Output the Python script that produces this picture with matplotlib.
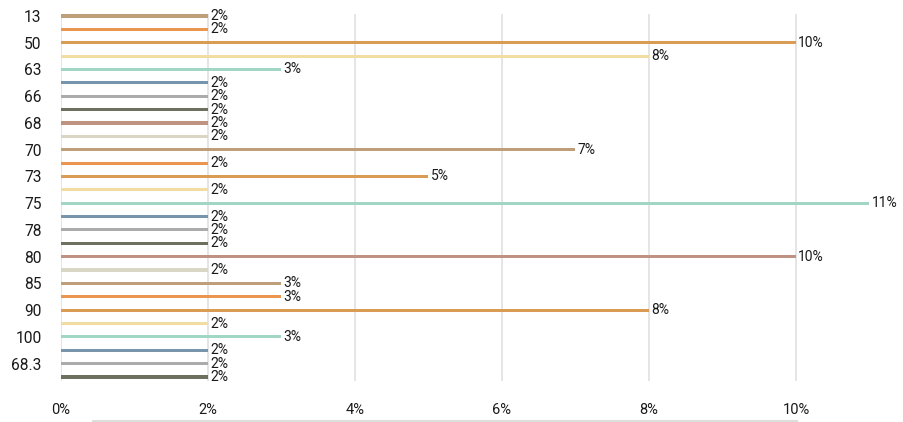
import matplotlib.pyplot as plt
from matplotlib.lines import Line2D

# category labels (shown on every other bar)
categories = ['13', '50', '63', '66', '68', '70', '73', '75', '78', '80',
              '85', '90', '100', '68.3']
# bar values in percent, top to bottom
values = [2, 2, 10, 8, 3, 2, 2, 2, 2, 2,
          7, 2, 5, 2, 11, 2, 2, 2, 10, 2,
          3, 3, 8, 2, 3, 2, 2, 2]
palette = ['#bf9f7a', '#eb9650', '#da9c55', '#f1dca2', '#a0d6c3',
           '#7895ae', '#ababab', '#6d705f', '#bf9282', '#d9d6c6']
x_ticks = [0, 2, 4, 6, 8, 10]

plt.rcParams['font.family'] = ['Roboto', 'DejaVu Sans']

fig = plt.figure(figsize=(9.04, 4.22), dpi=100)
ax = fig.add_axes([61 / 904, 1 - 381 / 422, (869.5 - 61) / 904, (381 - 14) / 422])

pos = list(range(len(values)))
colors = [palette[i % len(palette)] for i in pos]
ax.barh(pos, values, height=0.23, color=colors, zorder=3)

for p, v in zip(pos, values):
    ax.text(v + 0.03, p, f"{v}%", ha='left', va='center',
            fontsize=10, color='#1a1a1a', zorder=4)

ax.set_xlim(0, 11)
ax.set_ylim(len(values) - 1 + 0.3, -0.15)
ax.set_xticks(x_ticks)
ax.set_xticklabels([f"{t}%" for t in x_ticks], fontsize=10.5, color='#1a1a1a')
ax.set_yticks(pos[::2])
ax.set_yticklabels(categories, fontsize=11.2, color='#1a1a1a')
ax.tick_params(axis='x', length=0, pad=16)
ax.tick_params(axis='y', length=0, pad=14)

for t in x_ticks:
    ax.axvline(t, color='#e0e0e0', linewidth=1.2, zorder=1)
for s in ax.spines.values():
    s.set_visible(False)

# thin scroll line under the axis
fig.add_artist(Line2D([93 / 904, 797 / 904], [1 - 421 / 422] * 2,
                      color='#dddddd', linewidth=1.5))

fig.savefig('out.png', dpi=100)
